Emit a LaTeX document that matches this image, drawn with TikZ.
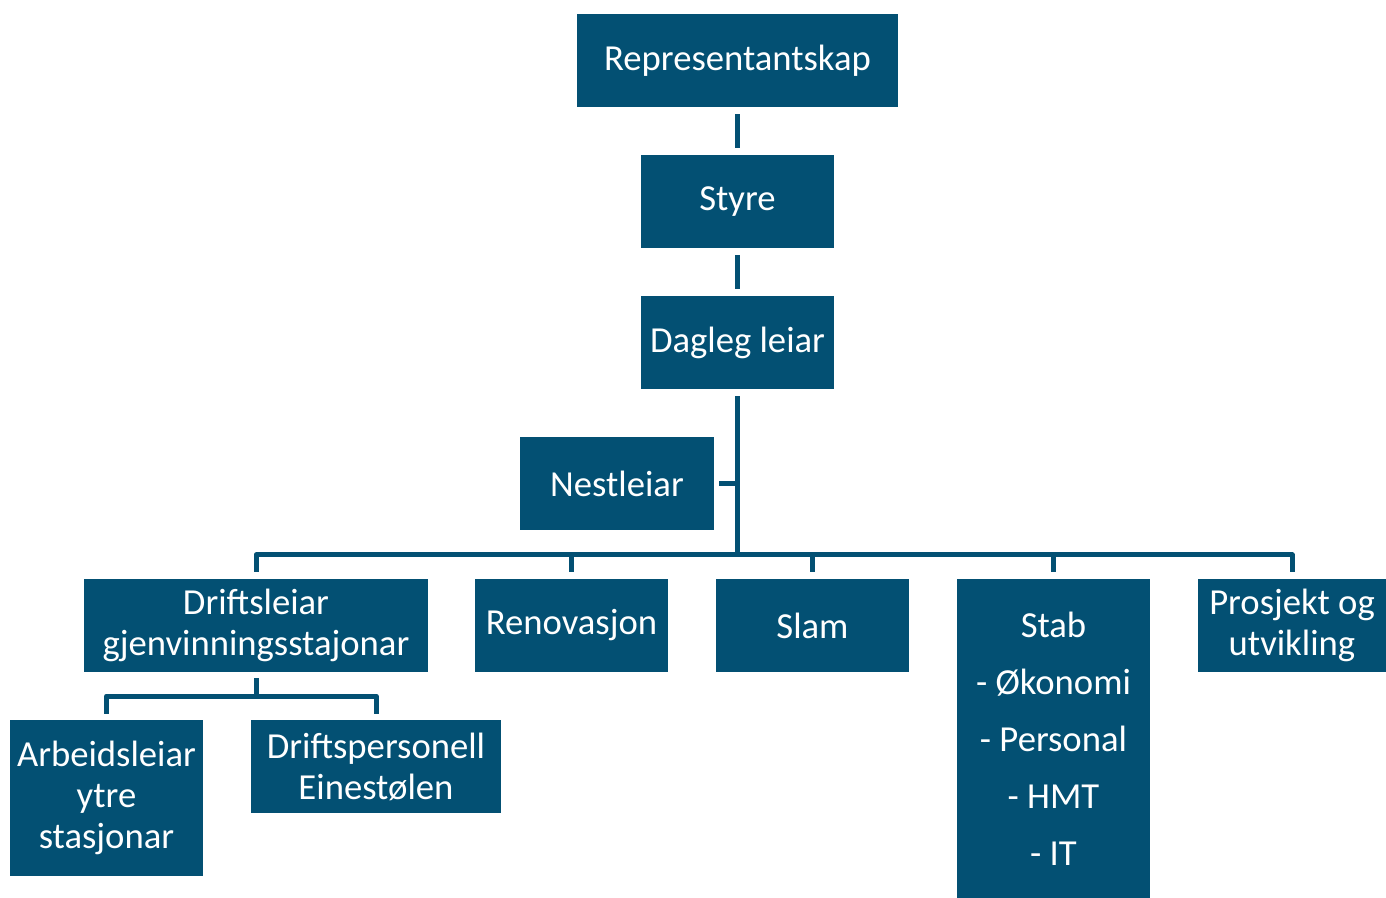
\documentclass[tikz,border=0pt]{standalone}
\usepackage{fontspec}
\setmainfont{Carlito}
\definecolor{boxblue}{RGB}{3,80,115}
\begin{document}
\begin{tikzpicture}[x=0.75pt,y=-0.75pt,
  box/.style 2 args={fill=boxblue, text=white, inner sep=0pt, align=center,
    minimum width={#1*0.75pt}, minimum height={#2*0.75pt},
    font=\fontsize{27.5}{30.75}\selectfont},
  conn/.style={draw=boxblue, line width=3.75pt, line join=round}]
\useasboundingbox (0,0) rectangle (1386,898);

\node[box={321}{93}] (rep) at (737.5,60.5) {Representantskap};
\node[box={193}{93}] (sty) at (737.5,201.5) {Styre};
\node[box={193}{93}] (dag) at (737.5,342.5) {Dagleg leiar};
\node[box={194}{93}] (nest) at (617,483.5) {Nestleiar};
\node[box={344}{93}] (drift) at (256,625.5) {Driftsleiar\\gjenvinningsstajonar};
\node[box={193}{93}] (ren) at (571.5,625.5) {Renovasjon};
\node[box={193}{93}] (slam) at (812.5,625.5) {Slam};
\node[box={193}{319}, font=\fontsize{27.5}{42.75}\selectfont] (stab) at (1053.5,738.5) {Stab\\- Økonomi\\- Personal\\- HMT\\- IT};
\node[box={188}{93}] (pros) at (1292,625.5) {Prosjekt og\\utvikling};
\node[box={193}{156}] (arb) at (106.5,798) {Arbeidsleiar\\ytre\\stasjonar};
\node[box={250}{93}] (dp) at (376,766.5) {Driftspersonell\\Einestølen};

\coordinate (bus) at (737.5,555);
\coordinate (sub) at (256,696);

\draw[conn, shorten <=5.25pt, shorten >=5.25pt] (rep.south) -- (sty.north);
\draw[conn, shorten <=5.25pt, shorten >=5.25pt] (sty.south) -- (dag.north);
\draw[conn, shorten <=5.25pt, shorten >=-1.875pt] (dag.south) -- (bus);
\draw[conn, shorten <=3.75pt] (nest.east) -- (nest.east -| dag.south);
\draw[conn] ([yshift=5.25pt]drift.north) -- (drift.north |- bus) -- (pros.north |- bus) -- ([yshift=5.25pt]pros.north);
\draw[conn, shorten >=5.25pt] (ren.north |- bus) -- (ren.north);
\draw[conn, shorten >=5.25pt] (slam.north |- bus) -- (slam.north);
\draw[conn, shorten >=5.25pt] (stab.north |- bus) -- (stab.north);
\draw[conn, shorten <=4.5pt] (drift.south) -- (sub);
\draw[conn] ([yshift=4.5pt]arb.north) -- (arb.north |- sub) -- (dp.north |- sub) -- ([yshift=4.5pt]dp.north);
\end{tikzpicture}
\end{document}
